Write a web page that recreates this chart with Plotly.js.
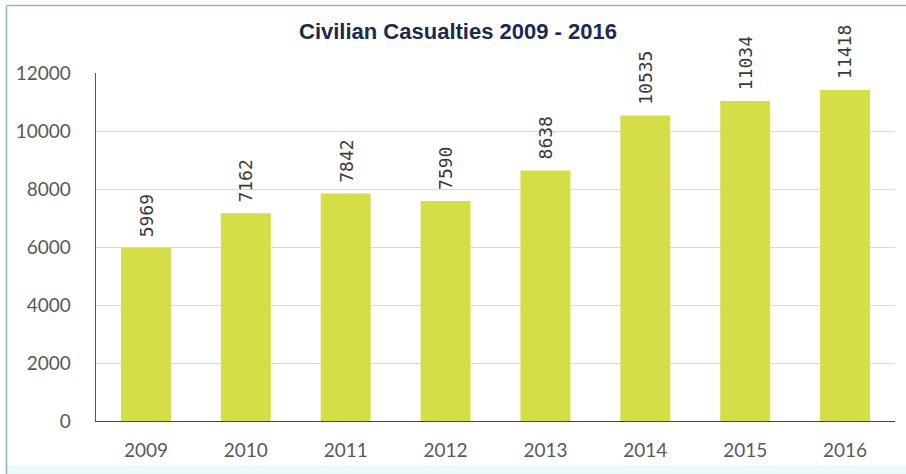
<!DOCTYPE html>
<html>
<head>
<meta charset="utf-8">
<script src="https://cdn.plot.ly/plotly-3.0.1.min.js"></script>
<style>html,body{margin:0;padding:0;background:#fff;}#chart{width:906px;height:474px;}</style>
</head>
<body>
<div id="chart"></div>
<script>
const years = ['2009','2010','2011','2012','2013','2014','2015','2016'];
const casualties = [5969, 7162, 7842, 7590, 8638, 10535, 11034, 11418];
const yTicks = [0, 2000, 4000, 6000, 8000, 10000, 12000];

const L = 96, R = 11, T = 73, B = 53, W = 906, H = 474;
const pw = W - L - R, ph = H - T - B;
const px = v => (v - L) / pw;
const py = v => (H - B - v) / ph;

const idx = years.map((_, i) => i);

const trace = {
  type: 'bar',
  x: idx,
  y: casualties,
  width: 0.5,
  marker: {color: '#d5dd47'},
  hoverinfo: 'skip'
};

const annotations = idx.map(i => ({
  x: i, y: casualties[i], xref: 'x', yref: 'y',
  text: String(casualties[i]), showarrow: false,
  textangle: -90, xanchor: 'center', yanchor: 'bottom', yshift: 9,
  font: {family: 'DejaVu Sans Mono', size: 18, color: '#3a3a3a'}
}));

const layout = {
  width: W, height: H,
  margin: {l: L, r: R, t: T, b: B},
  paper_bgcolor: '#ffffff', plot_bgcolor: '#ffffff',
  showlegend: false,
  title: {
    text: '<b>Civilian Casualties 2009 - 2016</b>',
    font: {family: 'Liberation Sans, Arial', size: 22, color: '#1c2a4f'},
    x: px(458), xref: 'paper', xanchor: 'center',
    y: 1 - 31.5 / H, yref: 'container', yanchor: 'middle'
  },
  xaxis: {
    type: 'linear',
    range: [-0.5, 7.5],
    tickvals: idx,
    ticktext: years,
    showgrid: false, zeroline: false,
    showline: true, linecolor: '#404040', linewidth: 1.3,
    ticks: 'outside', ticklen: 12, tickcolor: 'rgba(0,0,0,0)',
    tickfont: {family: 'Lato', size: 19, color: '#595959'},
    fixedrange: true
  },
  yaxis: {
    range: [0, 12000],
    tickvals: yTicks,
    ticktext: yTicks.map(String),
    showgrid: true, gridcolor: '#d9d9d9', gridwidth: 1,
    zeroline: false,
    showline: true, linecolor: '#595959', linewidth: 1.3,
    ticks: 'outside', ticklen: 20, tickcolor: 'rgba(0,0,0,0)',
    tickfont: {family: 'Lato', size: 19, color: '#595959'},
    fixedrange: true
  },
  annotations: annotations,
  shapes: [
    {type: 'rect', xref: 'paper', yref: 'paper', x0: px(6), x1: px(906), y0: py(474), y1: py(465.5),
     fillcolor: '#e9f8f9', line: {width: 0}, layer: 'below'},
    {type: 'line', xref: 'paper', yref: 'paper', x0: px(6.5), x1: px(906), y0: py(5.5), y1: py(5.5),
     line: {color: '#8fb4c0', width: 1.5}},
    {type: 'line', xref: 'paper', yref: 'paper', x0: px(6.5), x1: px(6.5), y0: py(5.5), y1: py(474),
     line: {color: '#8fb4c0', width: 1.5}}
  ]
};

Plotly.newPlot('chart', [trace], layout, {displayModeBar: false, staticPlot: true});
</script>
</body>
</html>
